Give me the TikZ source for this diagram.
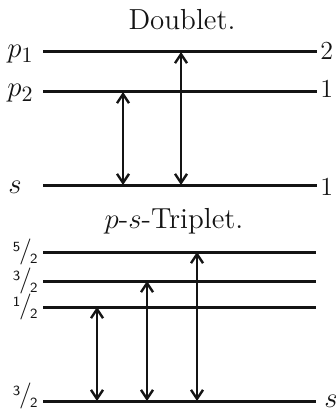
\documentclass[tikz,border=0pt]{standalone}
\usepackage{tikz}
\usetikzlibrary{positioning, arrows.meta, calc}
\definecolor{tinte}{HTML}{141414}
\definecolor{papier}{HTML}{FFFFFF}
\newcommand{\halbe}[1]{\raisebox{3.6pt}{\fontsize{7}{8}\sffamily #1}\kern-0.6pt{\fontsize{13}{14}\selectfont/}\kern-0.9pt\raisebox{-2.4pt}{\fontsize{7}{8}\sffamily 2}}

\begin{document}
\begin{tikzpicture}[x=0.5pt, y=-0.5pt,
  niveau/.style={draw=tinte, line width=1.5pt},
  uebergang/.style={draw=tinte, line width=1.2pt,
    {Straight Barb[length=4.5pt,width=6pt]}-{Straight Barb[length=4.5pt,width=6pt]}},
  titel/.style={text=tinte, anchor=base, inner sep=0pt, font=\fontsize{14.5}{16}\selectfont},
  marke/.style={text=tinte, anchor=base west, inner sep=0pt, font=\fontsize{13}{15}\selectfont},
  symbol/.style={marke, font=\fontsize{15}{17}\selectfont},
  bruch/.style={text=tinte, anchor=east, inner sep=0pt}]
  \fill[papier] (0,0) rectangle (336,411);
  \useasboundingbox (0,0) rectangle (336,411);

  \node[titel] (dublett) at (182,30) {Doublet.};
  \coordinate (p1a) at (43,52);  \coordinate (p1b) at (317,52);
  \coordinate (p2a) at (43,92);  \coordinate (p2b) at (317,92);
  \coordinate (sa)  at (43,185); \coordinate (sb)  at (317,185);
  \draw[niveau] (p1a) -- (p1b);
  \draw[niveau] (p2a) -- (p2b);
  \draw[niveau] (sa) -- (sb);
  \node[symbol] (lp1) at (7,58) {$p_1$};
  \node[symbol] (lp2) at (7,97) {$p_2$};
  \node[symbol] (ls)  at (8,193) {$s$};
  \node[marke] (rp1) at (320,60) {2};
  \node[marke] (rp2) at (320,98) {1};
  \node[marke] (rs)  at (320,195) {1};
  \coordinate (d1) at (123,0);
  \coordinate (d2) at (181,0);
  \draw[uebergang] (d1 |- p2a) -- (d1 |- sa);
  \draw[uebergang] (d2 |- p1a) -- (d2 |- sa);

  \node[titel] (triplett) at (174,228) {$p$-$s$-Triplet.};
  \coordinate (t5a) at (43,252);  \coordinate (t5b) at (316,252);
  \coordinate (t3a) at (43,281);  \coordinate (t3b) at (316,281);
  \coordinate (t1a) at (43,307);  \coordinate (t1b) at (316,307);
  \coordinate (tsa) at (43,401);  \coordinate (tsb) at (316,401);
  \draw[niveau] (t5a) -- (t5b);
  \draw[niveau] (t3a) -- (t3b);
  \draw[niveau] (t1a) -- (t1b);
  \draw[niveau] (tsa) -- (tsb);
  \node[bruch] (l5) at (38,252) {\halbe{5}};
  \node[bruch] (l3) at (38,281) {\halbe{3}};
  \node[bruch] (l1) at (38,307) {\halbe{1}};
  \node[bruch] (lts) at (38,396) {\halbe{3}};
  \node[symbol] (rts) at (324,407) {$s$};
  \coordinate (u1) at (97,0);
  \coordinate (u2) at (147,0);
  \coordinate (u3) at (197,0);
  \draw[uebergang] (u1 |- t1a) -- (u1 |- tsa);
  \draw[uebergang] (u2 |- t3a) -- (u2 |- tsa);
  \draw[uebergang] (u3 |- t5a) -- (u3 |- tsa);
\end{tikzpicture}
\end{document}
